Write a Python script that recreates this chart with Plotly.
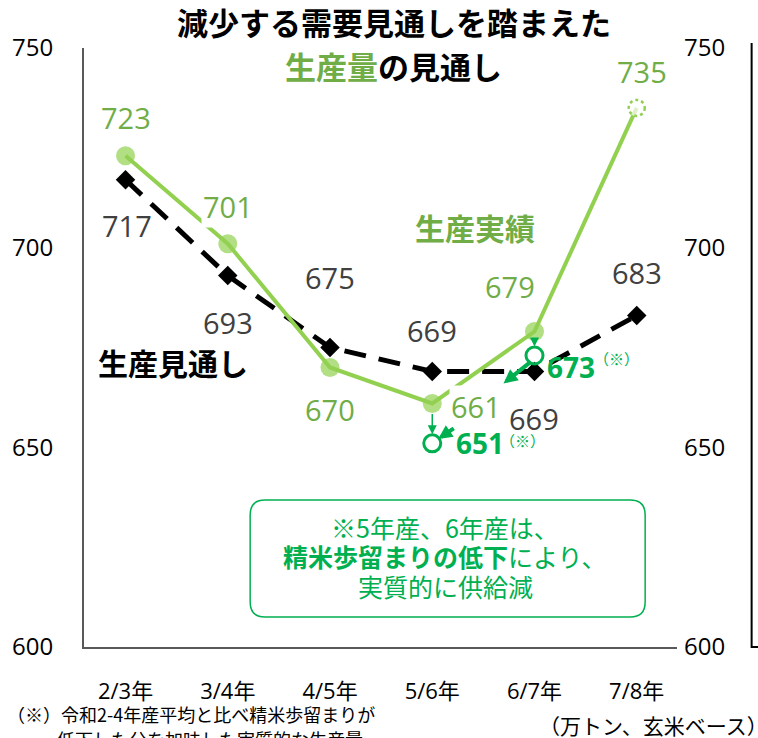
import plotly.graph_objects as go

# ---- data -------------------------------------------------------------
categories = ["2/3年", "3/4年", "4/5年", "5/6年", "6/7年", "7/8年"]
actual = [723, 701, 670, 661, 679, 735]          # 生産実績
outlook = [717, 693, 675, 669, 669, 683]         # 生産見通し
adj_categories = ["5/6年", "6/7年"]
adjusted = [651, 673]                            # 精米歩留まり考慮後
y_ticks = [600, 650, 700, 750]

# ---- layout geometry ---------------------------------------------------
W, H = 758, 738
ML, MR, MT, MB = 81, 81, 48, 91
PW, PH = W - ML - MR, H - MT - MB

def px(x):
    return (x - ML) / PW

def py(y):
    return (H - MB - y) / PH

LIGHT_GREEN = "#92D050"
LABEL_GREEN = "#70AD47"
DEEP_GREEN = "#00B050"
GREY = "#404040"
FONT = "Open Sans, Noto Sans CJK JP, sans-serif"
JP = "Noto Sans CJK JP, sans-serif"
NARROW = "Liberation Sans Narrow, Open Sans, Noto Sans CJK JP, sans-serif"

fig = go.Figure()

# forecast line (dashed, diamonds)
fig.add_trace(go.Scatter(
    x=categories, y=outlook, mode="lines+markers",
    line=dict(color="black", width=5, dash="22px,13px"),
    marker=dict(symbol="diamond", size=15, color="black"),
    hoverinfo="skip", showlegend=False,
))

# actual production line; last point is a hollow estimate
fig.add_trace(go.Scatter(
    x=categories, y=actual, mode="lines+markers",
    line=dict(color=LIGHT_GREEN, width=4),
    marker=dict(symbol="circle", size=[19] * 5 + [17],
                color=[LIGHT_GREEN] * 5 + ["white"], line=dict(width=0)),
    hoverinfo="skip", showlegend=False,
))

# adjusted (real supply) values
fig.add_trace(go.Scatter(
    x=adj_categories, y=adjusted, mode="markers",
    marker=dict(symbol="circle-open", size=17, color=DEEP_GREEN,
                line=dict(width=3, color=DEEP_GREEN)),
    hoverinfo="skip", showlegend=False,
))

# right-hand axis carrier
fig.add_trace(go.Scatter(
    x=categories, y=outlook, yaxis="y2", mode="lines",
    line=dict(width=0), opacity=0, hoverinfo="skip", showlegend=False,
))

annotations = []

# value labels for the actual series
actual_offsets = [(0, 38), (0, 37), (0, -42), (44, -3), (-24, 45), (5, 36)]
actual_bg = [None, "white", None, "white", None, None]
for c, v, (dx, dy), bg in zip(categories, actual, actual_offsets, actual_bg):
    ann = dict(
        x=c, y=v, xref="x", yref="y", text=str(v), showarrow=False,
        xshift=dx, yshift=dy, font=dict(family=FONT, size=29, color=LABEL_GREEN),
    )
    if bg:
        ann["bgcolor"] = bg
    annotations.append(ann)

# value labels for the forecast series
outlook_offsets = [(1, -46), (0, -47), (0, 70), (0, 41), (0, -47), (0, 43)]
for c, v, (dx, dy) in zip(categories, outlook, outlook_offsets):
    annotations.append(dict(
        x=c, y=v, xref="x", yref="y", text=str(v), showarrow=False,
        xshift=dx, yshift=dy, font=dict(family=FONT, size=29, color=GREY),
    ))

# adjusted values: thin arrows from the actual points, bold labels
adj_text_offsets = [(22, 0, 66, 3), (11, -12, 58, -3)]
thick_arrows = [(1, 1, 22, -15, 6), (-31, -28, 29, -23, 0)]
for c, v, (tx, ty, sx, sy), (hx, hy, ax, ay, so) in zip(
        adj_categories, adjusted, adj_text_offsets, thick_arrows):
    src = actual[categories.index(c)]
    annotations.append(dict(
        x=c, y=v, xref="x", yref="y", ax=c, ay=src, axref="x", ayref="y",
        text="", showarrow=True, arrowhead=2, arrowsize=1.2, arrowwidth=1.5,
        arrowcolor=DEEP_GREEN, standoff=9, startstandoff=9,
    ))
    annotations.append(dict(
        x=c, y=v, xref="x", yref="y", ax=ax, ay=ay, text="",
        xshift=hx, yshift=hy,
        showarrow=True, arrowhead=2, arrowsize=0.7, arrowwidth=4,
        arrowcolor=DEEP_GREEN, standoff=so,
    ))
    annotations.append(dict(
        x=c, y=v, xref="x", yref="y", text=f"<b>{v}</b>", showarrow=False,
        xanchor="left", xshift=tx, yshift=ty,
        font=dict(family=FONT, size=28, color=DEEP_GREEN),
    ))
    annotations.append(dict(
        x=c, y=v, xref="x", yref="y", text="（※）", showarrow=False,
        xanchor="left", xshift=sx, yshift=sy,
        font=dict(family=JP, size=15, color=DEEP_GREEN),
    ))

def text_at(x, y, text, size, color="black", anchor="center", family=JP):
    annotations.append(dict(
        x=px(x), y=py(y), xref="paper", yref="paper", text=text,
        showarrow=False, xanchor=anchor, yanchor="middle",
        font=dict(family=family, size=size, color=color),
    ))

# title
text_at(393, 22, "<b>減少する需要見通しを踏まえた</b>", 31)
text_at(392, 65, f"<b><span style='color:{LABEL_GREEN}'>生産量</span>の見通し</b>", 31)

# series names
text_at(474, 227, "<b>生産実績</b>", 30, LABEL_GREEN)
text_at(170, 362, "<b>生産見通し</b>", 30, "black")

# note box
text_at(444, 527, "※5年産、6年産は、", 25, DEEP_GREEN)
text_at(444, 556, "<b>精米歩留まりの低下</b>により、", 25, DEEP_GREEN)
text_at(444, 586, "実質的に供給減", 25, DEEP_GREEN)

# footnotes
text_at(2, 714, "（※）令和2-4年産平均と比べ精米歩留まりが", 18, anchor="left")
text_at(52, 739, "低下した分を加味した実質的な生産量。", 18, anchor="left")
text_at(653, 725, "（万トン、玄米ベース）", 21)

# rounded box around the note
bx0, bx1, by0, by1 = px(248), px(645), py(500), py(617)
rx, ry = 15 / PW, 15 / PH
box_path = (
    f"M {bx0 + rx},{by0} L {bx1 - rx},{by0} Q {bx1},{by0} {bx1},{by0 - ry} "
    f"L {bx1},{by1 + ry} Q {bx1},{by1} {bx1 - rx},{by1} "
    f"L {bx0 + rx},{by1} Q {bx0},{by1} {bx0},{by1 + ry} "
    f"L {bx0},{by0 - ry} Q {bx0},{by0} {bx0 + rx},{by0} Z"
)

shapes = [
    dict(type="path", xref="paper", yref="paper", path=box_path,
         line=dict(color=DEEP_GREEN, width=1.5), fillcolor="rgba(0,0,0,0)"),
    # dashed outline for the estimated last point
    dict(type="circle", xref="x", yref="y",
         xsizemode="pixel", ysizemode="pixel",
         xanchor=categories[-1], yanchor=actual[-1],
         x0=-8, x1=8, y0=-8, y1=8,
         line=dict(color=LIGHT_GREEN, width=2.5, dash="dot"), layer="above"),
    # frame edge at the far right
    dict(type="path", xref="paper", yref="paper",
         path=f"M {px(752)},{py(43)} L {px(752)},{py(647)} L {px(762)},{py(647)}",
         line=dict(color="black", width=2)),
]

axis_font = dict(family=FONT, size=24, color="black")
fig.update_layout(
    width=W, height=H,
    margin=dict(l=ML, r=MR, t=MT, b=MB, pad=0),
    paper_bgcolor="white", plot_bgcolor="white",
    xaxis=dict(
        type="category", categoryarray=categories, categoryorder="array",
        showgrid=False, zeroline=False, showline=True,
        linecolor="#595959", linewidth=2, ticks="",
        tickfont=dict(family=NARROW, size=22, color="black"),
        ticklabelstandoff=24,
    ),
    yaxis=dict(
        range=[600, 750], tickvals=y_ticks, showgrid=False, zeroline=False,
        showline=True, linecolor="#595959", linewidth=2, ticks="",
        tickfont=axis_font, ticklabelstandoff=24,
    ),
    yaxis2=dict(
        range=[600, 750], tickvals=y_ticks, overlaying="y", side="right",
        showgrid=False, zeroline=False, showline=False, ticks="",
        tickfont=axis_font, ticklabelstandoff=6,
    ),
    annotations=annotations,
    shapes=shapes,
    showlegend=False,
)

fig.write_html("out.html")
